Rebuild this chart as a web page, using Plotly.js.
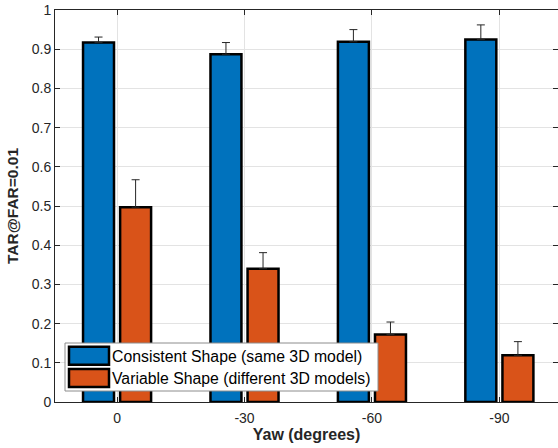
<!DOCTYPE html>
<html>
<head>
<meta charset="utf-8">
<script src="https://cdn.plot.ly/plotly-3.0.1.min.js"></script>
<style>html,body{margin:0;padding:0;background:#fff;}#chart{width:558px;height:448px;}</style>
</head>
<body>
<div id="chart"></div>
<script>
// Data
const categories = ["0", "-30", "-60", "-90"];
const consistentValues = [0.917, 0.887, 0.919, 0.925];
const consistentErr = [0.014, 0.030, 0.031, 0.037];
const variableValues = [0.497, 0.340, 0.172, 0.119];
const variableErr = [0.070, 0.041, 0.032, 0.035];
const seriesNames = ["Consistent Shape (same 3D model)", "Variable Shape (different 3D models)"];
const yTicks = [0, 0.1, 0.2, 0.3, 0.4, 0.5, 0.6, 0.7, 0.8, 0.9, 1];
const yTickLabels = ["0", "0.1", "0.2", "0.3", "0.4", "0.5", "0.6", "0.7", "0.8", "0.9", "1"];

const W = 558, H = 448;
const M = {l: 55, r: 0, t: 10, b: 46};
const PW = W - M.l - M.r, PH = H - M.t - M.b;
const px = x => (x - M.l) / PW;
const py = y => (H - M.b - y) / PH;

const blue = "#0072BD", orange = "#D95319";
const axisColor = "#262626";
const FONT = "Liberation Sans, Arial, sans-serif";

const zeros = categories.map(() => 0);
const traces = [
  {
    type: "bar", x: categories, y: consistentValues, name: seriesNames[0],
    width: 0.243, offset: -0.267,
    marker: {color: blue, line: {color: "#000", width: 2.5}},
    error_y: {type: "data", array: consistentErr, arrayminus: zeros, symmetric: false,
              color: axisColor, thickness: 1, width: 4},
    showlegend: false
  },
  {
    type: "bar", x: categories, y: variableValues, name: seriesNames[1],
    width: 0.243, offset: 0.024,
    marker: {color: orange, line: {color: "#000", width: 2.5}},
    error_y: {type: "data", array: variableErr, arrayminus: zeros, symmetric: false,
              color: axisColor, thickness: 1, width: 4},
    showlegend: false
  }
];

// Legend drawn as shapes + text
const lb = {x0: 65, x1: 378, y0: 343, y1: 391};
const sw = [{y0: 346.7, y1: 364.7, c: blue, ty: 356.5}, {y0: 369, y1: 387, c: orange, ty: 378}];
const shapes = [
  {type: "rect", xref: "paper", yref: "paper", layer: "above",
   x0: px(lb.x0), x1: px(lb.x1), y0: py(lb.y1), y1: py(lb.y0),
   fillcolor: "#fff", line: {color: "#8c8c8c", width: 1}}
];
const annotations = [];
sw.forEach((s, i) => {
  shapes.push({type: "rect", xref: "paper", yref: "paper", layer: "above",
    x0: px(69), x1: px(109), y0: py(s.y1), y1: py(s.y0),
    fillcolor: s.c, line: {color: "#000", width: 2.5}});
  annotations.push({xref: "paper", yref: "paper", x: px(110), y: py(s.ty),
    xanchor: "left", yanchor: "middle", showarrow: false, text: seriesNames[i],
    font: {family: FONT, size: 15.8, color: "#000"}});
});

const layout = {
  width: W, height: H,
  margin: M,
  paper_bgcolor: "#fff", plot_bgcolor: "#fff",
  barmode: "overlay",
  font: {family: FONT, color: axisColor, size: 14},
  xaxis: {
    type: "category", range: [-0.487, 3.46],
    showline: true, linecolor: axisColor, linewidth: 1, mirror: "ticks",
    ticks: "inside", ticklen: 5, tickcolor: axisColor,
    showgrid: true, gridcolor: "#e3e3e3", gridwidth: 1,
    zeroline: false, ticklabelstandoff: 3,
    tickfont: {size: 14, color: axisColor},
    title: {text: "Yaw (degrees)", font: {size: 16, color: axisColor, weight: "bold"}, standoff: 4}
  },
  yaxis: {
    range: [0, 1], tickvals: yTicks, ticktext: yTickLabels,
    showline: true, linecolor: axisColor, linewidth: 1, mirror: "ticks",
    ticks: "inside", ticklen: 5, tickcolor: axisColor,
    showgrid: true, gridcolor: "#e3e3e3", gridwidth: 1,
    zeroline: false,
    tickfont: {size: 14, color: axisColor},
    title: {text: "TAR@FAR=0.01", font: {size: 15.5, color: axisColor, weight: "bold"}, standoff: 9}
  },
  shapes: shapes,
  annotations: annotations
};

Plotly.newPlot("chart", traces, layout, {displayModeBar: false, staticPlot: true});
</script>
</body>
</html>
